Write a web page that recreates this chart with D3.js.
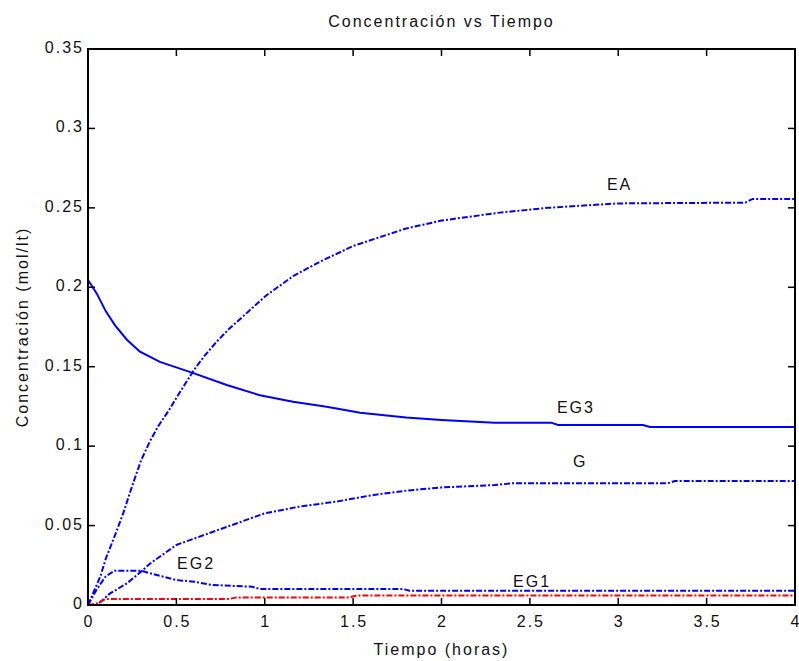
<!DOCTYPE html>
<html>
<head>
<meta charset="utf-8">
<script src="https://cdn.jsdelivr.net/npm/d3@7"></script>
<style>
body { margin: 0; background: #fff; }
text { font-family: "Liberation Sans", Arial, sans-serif; fill: #111; }
</style>
</head>
<body>
<script>
var ancho = 799;
var alto = 661;
var margen = {top: 49, right: 4, bottom: 56, left: 88};

var xTicks = [0, 0.5, 1, 1.5, 2, 2.5, 3, 3.5, 4];
var xTickLabels = ["0", "0.5", "1", "1.5", "2", "2.5", "3", "3.5", "4"];
var yTicks = [0, 0.05, 0.1, 0.15, 0.2, 0.25, 0.3, 0.35];
var yTickLabels = ["0", "0.05", "0.1", "0.15", "0.2", "0.25", "0.3", "0.35"];

// tiempo (horas) y concentracion (mol/lt) de cada especie
var tEA = [0, 0.07, 0.1, 0.16, 0.2, 0.25, 0.3, 0.35, 0.4, 0.46, 0.52, 0.6, 0.66, 0.73, 0.8, 0.88, 1.01, 1.16, 1.31, 1.5, 1.8, 2.0, 2.33, 2.6, 3.0, 3.72, 3.76, 4.0];
var cEA = [0, 0.018, 0.029, 0.046, 0.058, 0.075, 0.091, 0.103, 0.113, 0.123, 0.134, 0.148, 0.157, 0.166, 0.174, 0.182, 0.195, 0.207, 0.216, 0.226, 0.237, 0.242, 0.247, 0.250, 0.2528, 0.2533, 0.2556, 0.2556];

var tEG3 = [0, 0.05, 0.1, 0.153, 0.22, 0.294, 0.407, 0.6, 0.785, 0.973, 1.16, 1.35, 1.54, 1.8, 2.0, 2.3, 2.62, 2.66, 3.14, 3.18, 4.0];
var cEG3 = [0.2046, 0.196, 0.185, 0.176, 0.167, 0.1595, 0.153, 0.1458, 0.1385, 0.132, 0.128, 0.1248, 0.121, 0.118, 0.1165, 0.1148, 0.1148, 0.1133, 0.1133, 0.112, 0.112];

var tG = [0, 0.05, 0.125, 0.22, 0.3, 0.35, 0.5, 0.73, 1.0, 1.2, 1.4, 1.6, 1.8, 2.0, 2.3, 2.4, 3.28, 3.32, 4.0];
var cG = [0, 0, 0.0073, 0.0136, 0.021, 0.026, 0.0378, 0.047, 0.0577, 0.062, 0.065, 0.069, 0.072, 0.074, 0.0755, 0.0766, 0.0766, 0.078, 0.078];

var tEG2 = [0, 0.05, 0.1, 0.15, 0.3, 0.35, 0.5, 0.6, 0.7, 0.93, 0.97, 1.78, 1.82, 4.0];
var cEG2 = [0, 0.01, 0.018, 0.0216, 0.0216, 0.02, 0.0157, 0.0147, 0.0126, 0.0115, 0.0101, 0.0101, 0.009, 0.009];

var tEG1 = [0, 0.05, 0.1, 0.8, 0.84, 1.48, 1.52, 4.0];
var cEG1 = [0, 0.001, 0.0037, 0.0038, 0.0048, 0.0048, 0.006, 0.006];

var nombres = ["EA", "EG3", "G", "EG2", "EG1"];
// donde va cada etiqueta, en unidades de los ejes
var etiqT = [2.936, 2.653, 2.744, 0.504, 2.405];
var etiqC = [0.2612, 0.1209, 0.0869, 0.0227, 0.0113];

var colores = ["#0000ff", "#0000ff", "#0000ff", "#0000ff", "#ff0000"];
var estilos = ["6,2,2,2", null, "6,2,2,2", "6,2,2,2", "6,2,2,2"];
var tiempos = [tEA, tEG3, tG, tEG2, tEG1];
var concs = [cEA, cEG3, cG, cEG2, cEG1];

var svg = d3.select("body")
	.append("svg")
	.attr("width", ancho)
	.attr("height", alto);

var x = d3.scaleLinear().domain([0, 4]).range([margen.left, ancho - margen.right]);
var y = d3.scaleLinear().domain([0, 0.35]).range([alto - margen.bottom, margen.top]);

// curvas
var linea = d3.line()
	.x(function(d){ return x(d[0]); })
	.y(function(d){ return y(d[1]); });

for (var i = 0; i < nombres.length; i++){
	var puntos = d3.zip(tiempos[i], concs[i]);
	var p = svg.append("path")
		.datum(puntos)
		.attr("d", linea)
		.attr("fill", "none")
		.attr("stroke", colores[i])
		.attr("stroke-width", 2);
	if (estilos[i]) p.attr("stroke-dasharray", estilos[i]);
}

// caja del grafico
svg.append("rect")
	.attr("x", x(0))
	.attr("y", y(0.35))
	.attr("width", x(4) - x(0))
	.attr("height", y(0) - y(0.35))
	.attr("fill", "none")
	.attr("stroke", "black")
	.attr("stroke-width", 2);

// marcas hacia adentro en los cuatro lados
var largo = 7;
var ejes = svg.append("g").attr("stroke", "black").attr("stroke-width", 1.5);
xTicks.forEach(function(t){
	ejes.append("line").attr("x1", x(t)).attr("x2", x(t)).attr("y1", y(0)).attr("y2", y(0) - largo);
	ejes.append("line").attr("x1", x(t)).attr("x2", x(t)).attr("y1", y(0.35)).attr("y2", y(0.35) + largo);
});
yTicks.forEach(function(c){
	ejes.append("line").attr("x1", x(0)).attr("x2", x(0) + largo).attr("y1", y(c)).attr("y2", y(c));
	ejes.append("line").attr("x1", x(4)).attr("x2", x(4) - largo).attr("y1", y(c)).attr("y2", y(c));
});

// etiquetas de los ejes
svg.selectAll(".xt")
	.data(xTicks)
	.enter().append("text")
	.attr("x", function(d){ return x(d) + 1; })
	.attr("y", y(0) + 22)
	.attr("text-anchor", "middle")
	.attr("font-size", 16)
	.attr("letter-spacing", 2)
	.text(function(d, i){ return xTickLabels[i]; });

svg.selectAll(".yt")
	.data(yTicks)
	.enter().append("text")
	.attr("x", x(0) - 4)
	.attr("y", function(d){ return y(d) + 4; })
	.attr("text-anchor", "end")
	.attr("font-size", 16)
	.attr("letter-spacing", 2)
	.text(function(d, i){ return yTickLabels[i]; });

svg.append("text")
	.attr("x", (x(0) + x(4)) / 2)
	.attr("y", 27)
	.attr("text-anchor", "middle")
	.attr("font-size", 16)
	.attr("letter-spacing", 2)
	.text("Concentración vs Tiempo");

svg.append("text")
	.attr("x", (x(0) + x(4)) / 2)
	.attr("y", 655)
	.attr("text-anchor", "middle")
	.attr("font-size", 16)
	.attr("letter-spacing", 2)
	.text("Tiempo (horas)");

svg.append("text")
	.attr("transform", "translate(28," + (y(0) + y(0.35)) / 2 + ") rotate(-90)")
	.attr("text-anchor", "middle")
	.attr("font-size", 16)
	.attr("letter-spacing", 2)
	.text("Concentración (mol/lt)");

// nombres de las curvas
for (var j = 0; j < nombres.length; j++){
	svg.append("text")
		.attr("x", x(etiqT[j]))
		.attr("y", y(etiqC[j]))
		.attr("font-size", 16)
		.attr("letter-spacing", 2)
		.text(nombres[j]);
}
</script>
</body>
</html>
